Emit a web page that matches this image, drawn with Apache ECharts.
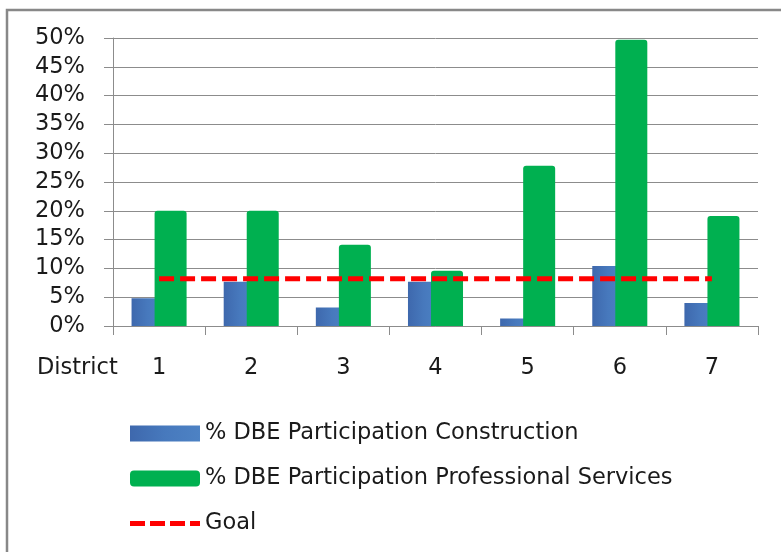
<!DOCTYPE html>
<html>
<head>
<meta charset="utf-8">
<script src="https://cdn.jsdelivr.net/npm/echarts@6/dist/echarts.min.js"></script>
<style>
  html, body { margin: 0; padding: 0; background: #ffffff; }
  #chart { width: 781px; height: 552px; }
</style>
</head>
<body>
<div id="chart"></div>
<script>
// District labels along the category axis
const districts = ['1', '2', '3', '4', '5', '6', '7'];
// Percent of DBE participation per district
const construction = [4.8, 7.7, 3.2, 7.7, 1.3, 10.4, 4.0];
const professional = [20.0, 20.0, 14.1, 9.6, 27.8, 49.7, 19.1];
// Participation goal, same for every district
const goal = [8.2, 8.2, 8.2, 8.2, 8.2, 8.2, 8.2];
// Value axis range
const yMin = 0, yMax = 50, yStep = 5;

const seriesNames = [
  '% DBE Participation Construction',
  '% DBE Participation Professional Services',
  'Goal'
];

const FONT = 'DejaVu Sans';
const GRID_COLOR = '#8c8c8c';

// Dashed-line legend icon: four dashes inside a 70x16 box
const DASH_ICON = 'path://M0,0L0,0M0,5.5h15v5h-15zM20,5.5h15v5h-15zM40,5.5h15v5h-15zM60,5.5h10v5h-10zM70,16L70,16';

const chart = echarts.init(document.getElementById('chart'), null, { renderer: 'canvas' });

chart.setOption({
  animation: false,
  backgroundColor: '#ffffff',
  textStyle: { fontFamily: FONT },
  grid: { left: 113, top: 38, right: 23, bottom: 226, containLabel: false },
  xAxis: {
    type: 'category',
    data: districts,
    boundaryGap: true,
    axisLine: { show: true, lineStyle: { color: GRID_COLOR, width: 1 } },
    axisTick: { show: true, alignWithLabel: false, length: 9, lineStyle: { color: GRID_COLOR } },
    axisLabel: { margin: 31, fontSize: 22.5, color: '#1a1a1a', fontFamily: FONT }
  },
  yAxis: {
    type: 'value',
    min: yMin,
    max: yMax,
    interval: yStep,
    axisLine: { show: true, lineStyle: { color: GRID_COLOR, width: 1 } },
    axisTick: { show: true, length: 9, lineStyle: { color: GRID_COLOR } },
    splitLine: { show: true, lineStyle: { color: GRID_COLOR, width: 1 } },
    axisLabel: {
      margin: 28,
      fontSize: 22.5,
      color: '#1a1a1a',
      fontFamily: FONT,
      formatter: '{value}%'
    }
  },
  legend: {
    orient: 'vertical',
    left: 125,
    top: 417,
    itemWidth: 70,
    itemHeight: 16,
    itemGap: 22,
    textStyle: { fontSize: 22.5, color: '#1a1a1a', fontFamily: FONT },
    data: [
      { name: seriesNames[0], icon: 'rect' },
      { name: seriesNames[1], icon: 'roundRect' },
      { name: seriesNames[2], icon: DASH_ICON, itemStyle: { color: '#ff0000', borderWidth: 0 } }
    ]
  },
  graphic: [
    {
      type: 'rect',
      silent: true,
      shape: { x: 7, y: 10, width: 820, height: 620 },
      style: { fill: 'none', stroke: '#888888', lineWidth: 2.5 }
    },
    {
      type: 'text',
      silent: true,
      left: 37,
      top: 357,
      style: { text: 'District', font: '22.5px "DejaVu Sans"', fill: '#1a1a1a' }
    }
  ],
  series: [
    {
      name: seriesNames[0],
      type: 'bar',
      data: construction,
      barWidth: 32,
      barGap: '-28%',
      itemStyle: {
        color: new echarts.graphic.LinearGradient(0, 0, 1, 0, [
          { offset: 0, color: '#3e68ad' },
          { offset: 0.5, color: '#4779bd' },
          { offset: 1, color: '#4d82c4' }
        ])
      }
    },
    {
      name: seriesNames[1],
      type: 'bar',
      data: professional,
      barWidth: 32,
      barGap: '-28%',
      itemStyle: { color: '#00b050', borderRadius: [3, 3, 0, 0] }
    },
    {
      name: seriesNames[2],
      type: 'line',
      data: goal,
      symbol: 'none',
      z: 5,
      lineStyle: { color: '#ff0000', width: 5, type: [15, 6], cap: 'butt' },
      itemStyle: { color: '#ff0000' }
    }
  ]
});
</script>
</body>
</html>
